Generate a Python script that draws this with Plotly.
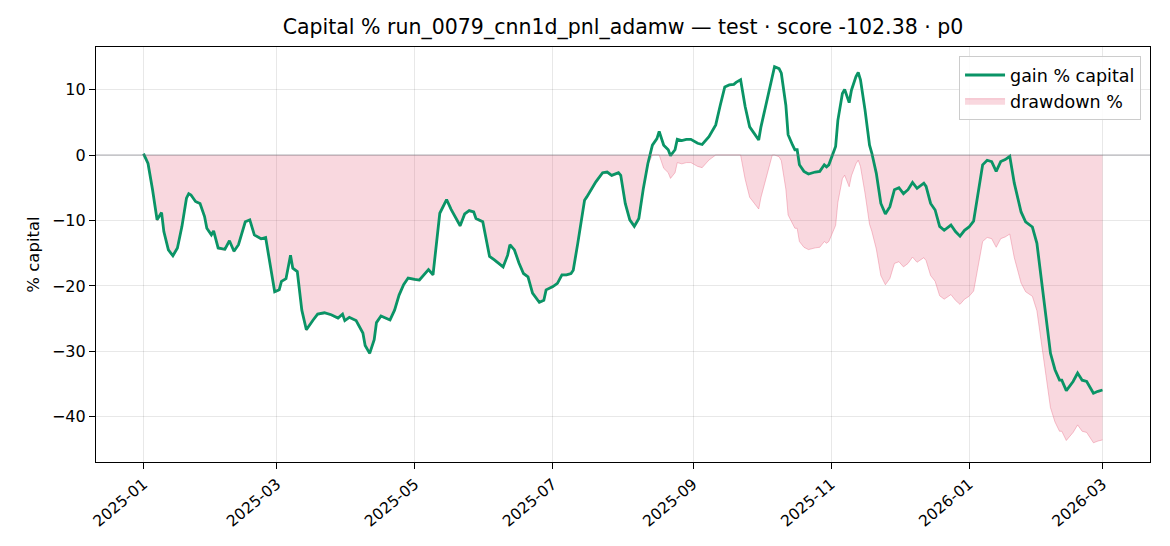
import plotly.graph_objects as go
import numpy as np

dates = [
    "2025-01-01", "2025-01-03", "2025-01-05", "2025-01-07", "2025-01-09", "2025-01-10", "2025-01-12",
    "2025-01-14", "2025-01-16", "2025-01-18", "2025-01-20", "2025-01-21", "2025-01-22", "2025-01-24",
    "2025-01-26", "2025-01-28", "2025-01-29", "2025-01-31", "2025-02-01", "2025-02-03", "2025-02-06",
    "2025-02-08", "2025-02-10", "2025-02-12", "2025-02-15", "2025-02-17", "2025-02-19", "2025-02-22",
    "2025-02-24", "2025-02-28", "2025-03-02", "2025-03-03", "2025-03-05", "2025-03-07", "2025-03-08",
    "2025-03-10", "2025-03-12", "2025-03-14", "2025-03-17", "2025-03-19", "2025-03-22", "2025-03-25",
    "2025-03-28", "2025-03-30", "2025-03-31", "2025-04-02", "2025-04-05", "2025-04-08", "2025-04-09",
    "2025-04-11", "2025-04-13", "2025-04-14", "2025-04-16", "2025-04-20", "2025-04-22", "2025-04-24",
    "2025-04-26", "2025-04-28", "2025-05-01", "2025-05-03", "2025-05-07", "2025-05-09", "2025-05-12",
    "2025-05-15", "2025-05-17", "2025-05-20", "2025-05-21", "2025-05-23", "2025-05-25", "2025-05-27",
    "2025-05-28", "2025-05-31", "2025-06-03", "2025-06-05", "2025-06-09", "2025-06-11", "2025-06-12",
    "2025-06-14", "2025-06-16", "2025-06-18", "2025-06-20", "2025-06-22", "2025-06-25", "2025-06-27",
    "2025-06-28", "2025-07-01", "2025-07-03", "2025-07-05", "2025-07-07", "2025-07-09", "2025-07-10",
    "2025-07-12", "2025-07-15", "2025-07-16", "2025-07-18", "2025-07-20", "2025-07-23", "2025-07-25",
    "2025-07-27", "2025-07-30", "2025-07-31", "2025-08-02", "2025-08-04", "2025-08-06", "2025-08-08",
    "2025-08-10", "2025-08-12", "2025-08-14", "2025-08-16", "2025-08-17", "2025-08-19", "2025-08-21",
    "2025-08-22", "2025-08-24", "2025-08-25", "2025-08-27", "2025-08-29", "2025-08-31", "2025-09-03",
    "2025-09-05", "2025-09-08", "2025-09-11", "2025-09-13", "2025-09-15", "2025-09-17", "2025-09-19",
    "2025-09-20", "2025-09-22", "2025-09-24", "2025-09-26", "2025-09-28", "2025-09-30", "2025-10-01",
    "2025-10-04", "2025-10-06", "2025-10-07", "2025-10-09", "2025-10-10", "2025-10-12", "2025-10-13",
    "2025-10-15", "2025-10-16", "2025-10-17", "2025-10-18", "2025-10-20", "2025-10-22", "2025-10-25",
    "2025-10-27", "2025-10-29", "2025-10-30", "2025-10-31", "2025-11-03", "2025-11-04", "2025-11-06",
    "2025-11-07", "2025-11-09", "2025-11-10", "2025-11-12", "2025-11-13", "2025-11-14", "2025-11-16",
    "2025-11-18", "2025-11-19", "2025-11-21", "2025-11-23", "2025-11-25", "2025-11-27", "2025-11-29",
    "2025-12-01", "2025-12-03", "2025-12-05", "2025-12-07", "2025-12-09", "2025-12-12", "2025-12-13",
    "2025-12-15", "2025-12-17", "2025-12-19", "2025-12-21", "2025-12-24", "2025-12-26", "2025-12-28",
    "2025-12-30", "2026-01-01", "2026-01-03", "2026-01-05", "2026-01-07", "2026-01-09", "2026-01-11",
    "2026-01-13", "2026-01-15", "2026-01-17", "2026-01-19", "2026-01-21", "2026-01-24", "2026-01-26",
    "2026-01-29", "2026-01-31", "2026-02-02", "2026-02-04", "2026-02-06", "2026-02-08", "2026-02-10",
    "2026-02-11", "2026-02-13", "2026-02-16", "2026-02-18", "2026-02-20", "2026-02-22", "2026-02-25",
    "2026-02-27", "2026-03-01",
]

gain_pct = [
    0.2, -1.3, -5.3, -9.9, -8.8, -11.7, -14.5,
    -15.4, -14.2, -10.9, -6.6, -5.9, -6.1, -7.1,
    -7.4, -9.4, -11.2, -12.2, -11.6, -14.2, -14.4,
    -13.1, -14.7, -13.7, -10.2, -9.9, -12.2, -12.8,
    -12.6, -20.9, -20.6, -19.3, -18.9, -15.3, -17.3,
    -17.8, -23.7, -26.7, -25.2, -24.3, -24.1, -24.4,
    -24.9, -24.3, -25.3, -24.8, -25.3, -27.2, -29.1,
    -30.3, -28.2, -25.6, -24.6, -25.2, -23.7, -21.4,
    -19.8, -18.8, -19.0, -19.1, -17.5, -18.3, -8.9,
    -6.8, -8.3, -10.3, -10.8, -9.0, -8.5, -8.7,
    -9.7, -10.2, -15.5, -16.0, -17.1, -15.3, -13.7,
    -14.5, -16.5, -18.1, -18.6, -21.1, -22.5, -22.2,
    -20.6, -20.1, -19.6, -18.3, -18.3, -18.1, -17.6,
    -13.5, -6.9, -6.4, -5.3, -4.1, -2.7, -2.6,
    -3.1, -2.7, -3.1, -7.4, -9.9, -10.9, -9.7,
    -5.1, -1.3, 1.5, 2.5, 3.6, 1.5, 0.8,
    -0.1, 0.8, 2.4, 2.2, 2.4, 2.4, 1.8,
    1.6, 2.8, 4.6, 7.6, 10.4, 10.7, 10.8,
    11.1, 11.5, 7.4, 4.3, 3.3, 2.3, 4.3,
    8.7, 12.0, 13.5, 13.2, 12.5, 7.6, 3.1,
    1.5, 0.8, 0.8, -1.5, -2.5, -2.9, -2.6,
    -2.5, -1.5, -1.8, -1.5, 1.3, 5.3, 9.4,
    10.0, 8.0, 9.9, 12.0, 12.6, 11.5, 6.9,
    1.5, 0.3, -2.8, -7.4, -9.0, -7.9, -5.3,
    -5.0, -5.9, -5.3, -4.2, -5.1, -4.3, -4.8,
    -7.4, -8.4, -10.9, -11.5, -10.7, -11.7, -12.4,
    -11.5, -11.0, -10.1, -5.9, -1.5, -0.8, -1.0,
    -2.5, -1.0, -0.7, -0.2, -4.3, -8.7, -10.2,
    -11.0, -13.5, -19.6, -24.7, -30.3, -32.8, -34.4,
    -34.4, -36.0, -34.6, -33.3, -34.4, -34.6, -36.4,
    -36.1, -35.9,
]

# drawdown of capital (100 + gain) relative to its running peak
capital = 100.0 + np.array(gain_pct)
peak = np.maximum.accumulate(np.maximum(capital, 100.0))
drawdown_pct = (capital / peak - 1.0) * 100.0

tick_vals = ["2025-01-01", "2025-03-01", "2025-05-01", "2025-07-01", "2025-09-01",
             "2025-11-01", "2026-01-01", "2026-03-01"]
tick_text = ["2025-01", "2025-03", "2025-05", "2025-07", "2025-09", "2025-11", "2026-01", "2026-03"]

title = "Capital % run_0079_cnn1d_pnl_adamw — test · score -102.38 · p0"

fig = go.Figure()
fig.add_trace(go.Scatter(
    x=dates, y=drawdown_pct, mode="lines", name="drawdown %",
    fill="tozeroy", fillcolor="rgba(230,90,120,0.24)",
    line=dict(color="rgba(235,120,145,0.45)", width=1),
    legendrank=2,
))
fig.add_trace(go.Scatter(
    x=dates, y=gain_pct, mode="lines", name="gain % capital",
    line=dict(color="#0a9466", width=2.8),
    legendrank=1,
))

fig.update_layout(
    width=1170, height=546,
    margin=dict(l=88, r=28, t=39, b=92),
    paper_bgcolor="white", plot_bgcolor="white",
    font=dict(family="DejaVu Sans", size=16.5, color="black"),
    title=dict(text=title, x=0.5, xref="paper", xanchor="center", y=0.965, yanchor="middle",
               font=dict(size=20.5)),
    showlegend=True,
    legend=dict(x=0.9915, y=0.978, xanchor="right", yanchor="top",
                bgcolor="rgba(255,255,255,0.85)", bordercolor="#cccccc", borderwidth=1,
                font=dict(size=17.5), tracegroupgap=2, itemwidth=40),
    shapes=[dict(type="line", xref="paper", x0=0, x1=1, yref="y", y0=0, y1=0,
                 line=dict(color="rgba(120,120,130,0.6)", width=1), layer="above")],
)
fig.update_xaxes(
    type="date", range=["2024-12-11", "2026-03-22"],
    tickvals=tick_vals, ticktext=tick_text, tickangle=-40,
    ticks="outside", ticklen=6, tickcolor="black",
    showgrid=True, gridcolor="rgba(0,0,0,0.09)", gridwidth=1,
    showline=True, linecolor="black", linewidth=1.2, mirror=True,
    zeroline=False, tickfont=dict(size=15.5),
)
fig.update_yaxes(
    range=[-46.9, 16.5], tickvals=[-40, -30, -20, -10, 0, 10],
    ticks="outside", ticklen=6, tickcolor="black",
    showgrid=True, gridcolor="rgba(0,0,0,0.09)", gridwidth=1,
    showline=True, linecolor="black", linewidth=1.2, mirror=True,
    zeroline=False, tickfont=dict(size=16),
    title=dict(text="% capital", font=dict(size=16.5), standoff=8),
)

fig.write_html("out.html")
